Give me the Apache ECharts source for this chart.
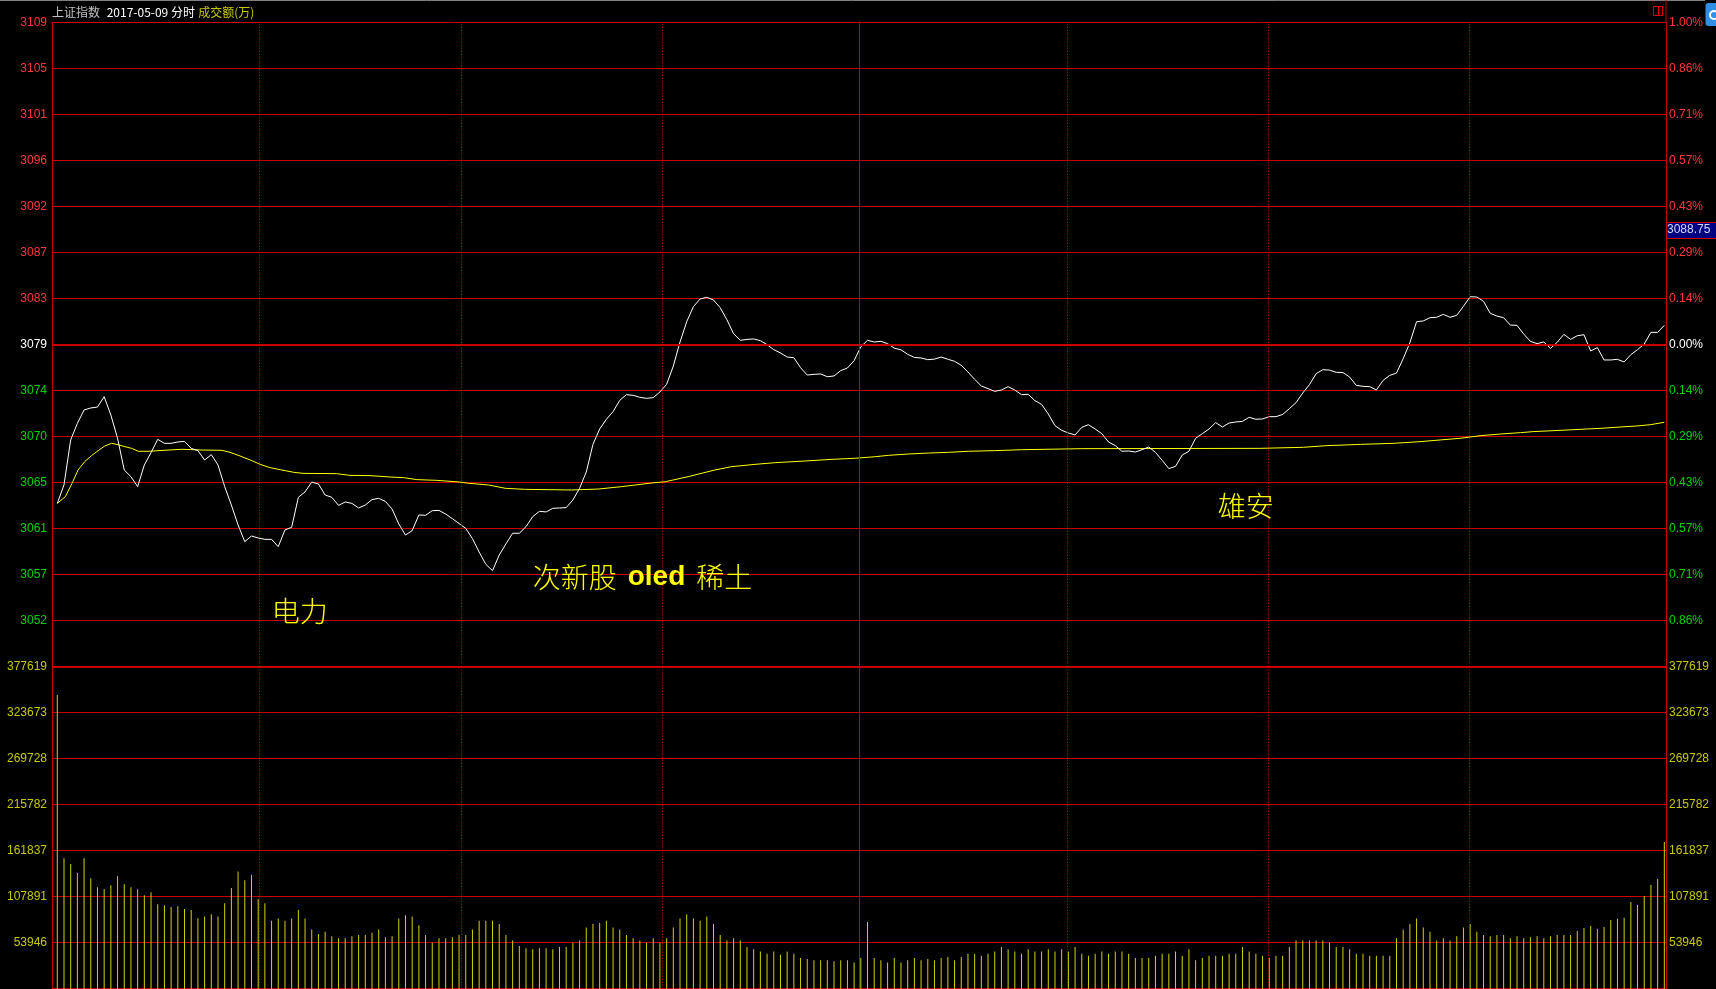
<!DOCTYPE html>
<html><head><meta charset="utf-8">
<script src="https://cdn.jsdelivr.net/npm/echarts@6/dist/echarts.min.js"></script>
<style>html,body{margin:0;padding:0;background:#000;overflow:hidden}#c{width:1716px;height:989px}</style>
</head><body><div id="c"></div>
<script>
// ---------- data ----------
const prevClose = 3078.6;
const priceValues = [
3063.43,3065.19,3069.49,3071.08,3072.36,3072.55,3072.64,3073.63,3071.88,3069.65,
3066.62,3065.98,3065.03,3067.10,3068.28,3069.55,3069.17,3069.17,3069.30,3069.36,
3068.69,3068.47,3067.58,3068.09,3067.10,3065.03,3063.27,3061.36,3059.77,3060.31,
3060.12,3059.99,3059.99,3059.29,3060.89,3061.14,3064.01,3064.52,3065.47,3065.28,
3064.23,3064.01,3063.24,3063.56,3063.43,3062.99,3063.27,3063.79,3063.91,3063.62,
3062.89,3061.46,3060.40,3060.82,3062.32,3062.29,3062.73,3062.76,3062.41,3061.97,
3061.50,3061.04,3060.06,3058.78,3057.60,3057.00,3058.49,3059.55,3060.57,3060.57,
3061.20,3062.16,3062.67,3062.61,3062.96,3062.99,3063.02,3063.75,3064.87,3066.43,
3069.07,3070.54,3071.47,3072.20,3073.28,3073.82,3073.76,3073.57,3073.47,3073.54,
3074.08,3074.81,3076.56,3078.86,3080.80,3082.24,3082.97,3083.13,3082.87,3082.14,
3080.99,3079.65,3079.02,3079.11,3079.15,3078.99,3078.60,3078.13,3077.81,3077.42,
3077.36,3076.40,3075.70,3075.77,3075.80,3075.54,3075.61,3076.12,3076.37,3077.07,
3078.40,3079.02,3078.86,3078.92,3078.70,3078.27,3078.11,3077.68,3077.38,3077.33,
3077.17,3077.22,3077.42,3077.21,3077.01,3076.63,3075.99,3075.29,3074.65,3074.40,
3074.14,3074.27,3074.59,3074.27,3073.82,3073.86,3073.25,3072.90,3071.97,3070.86,
3070.41,3070.16,3069.97,3070.70,3070.95,3070.54,3070.09,3069.30,3068.95,3068.41,
3068.44,3068.34,3068.56,3068.82,3068.31,3067.55,3066.75,3066.97,3068.05,3068.41,
3069.65,3070.09,3070.54,3071.15,3070.73,3071.11,3071.21,3071.27,3071.66,3071.47,
3071.50,3071.72,3071.72,3071.93,3072.48,3073.06,3073.98,3074.78,3075.83,3076.21,
3076.17,3075.96,3075.94,3075.51,3074.71,3074.62,3074.59,3074.27,3075.19,3075.67,
3075.89,3077.26,3078.79,3080.80,3080.87,3081.18,3081.22,3081.50,3081.22,3081.41,
3082.27,3083.19,3083.16,3082.75,3081.60,3081.34,3081.18,3080.48,3080.45,3079.62,
3078.92,3078.70,3078.86,3078.25,3078.83,3079.59,3079.11,3079.46,3079.55,3078.00,
3078.32,3077.14,3077.14,3077.20,3076.95,3077.65,3078.13,3078.67,3079.78,3079.78,
3080.45
];
const avgMinutes = [0,1.2,2.2,3.1,4.1,5.1,6.1,7.1,8.1,9.1,10.1,11.1,12.1,13.8,15.8,18.6,21.6,24.6,25.8,27.3,
28.8,30.3,31.8,33.3,35.3,36.7,41.7,43.7,46.7,49.7,51.7,53.7,56.7,60.1,61.4,64.4,66.9,69.9,76.8,80.8,
84.3,88.8,90.8,94.2,98.2,100.7,104.2,107.2,111.7,115.7,119.1,122.1,124.1,127.1,130.1,133.1,136.1,140.0,144.0,153.0,
179.6,186.1,189.6,194.6,199.5,203.5,206.5,209.5,212.5,215.5,218.5,220.4,223.4,225.4,228.4,230.4,233.4,235.9,237.9,240];
const avgValues = [3063.43,3064.07,3065.34,3066.62,3067.42,3067.99,3068.47,3068.92,3069.17,3069.04,3068.85,3068.69,3068.41,3068.41,3068.50,3068.60,3068.53,3068.50,3068.31,3067.96,
3067.58,3067.16,3066.84,3066.65,3066.40,3066.30,3066.27,3066.11,3066.08,3065.95,3065.89,3065.70,3065.63,3065.47,3065.35,3065.19,3064.87,3064.77,3064.71,3064.80,
3065.03,3065.38,3065.50,3065.98,3066.62,3066.94,3067.16,3067.32,3067.48,3067.64,3067.74,3067.89,3068.02,3068.15,3068.24,3068.31,3068.41,3068.47,3068.56,3068.66,
3068.69,3068.79,3068.95,3069.07,3069.17,3069.33,3069.49,3069.65,3069.90,3070.06,3070.19,3070.29,3070.38,3070.44,3070.54,3070.60,3070.73,3070.83,3070.95,3071.18];
const volumeValues = [
344400,152900,146200,135700,152900,129400,118900,116900,121200,131800,
122400,118900,116500,109500,113000,99000,97800,95800,96600,93500,
92300,82600,84700,87300,84700,100200,118100,137400,127100,133500,
105300,100200,79600,82200,79600,82200,92400,82200,69300,64200,
66800,61600,59100,59100,61600,62900,62900,65500,69300,60300,
61600,82200,86000,84700,74500,62900,53900,59100,59100,60300,
62900,62900,69300,79600,79600,79600,75800,62900,56500,50100,
47500,46200,47500,47500,46200,48800,48800,53900,56500,71900,
75800,77000,79600,71900,69300,62900,59100,56500,53900,59100,
53900,59100,71900,82200,87300,82200,79600,84700,75800,62900,
56500,59100,56500,48800,46200,43700,41100,43700,39800,43700,
41100,36000,34700,33400,33400,33400,32100,33400,33400,30800,
36000,78300,36000,33400,30800,36000,30800,33400,36000,33400,
34700,33400,36000,37200,33400,37200,41100,41100,38500,41100,
43700,48800,46200,43700,41100,46200,43700,43700,46200,43700,
46200,43700,48800,41100,38500,41100,43700,41100,43700,43700,
41100,36000,36000,36000,38500,41100,41100,43700,38500,46200,
33400,36000,38500,38500,38500,41100,41100,48800,43700,41100,
38500,36000,38500,38500,48800,56500,56500,56500,56500,56500,
53900,48800,48800,46200,41100,41100,38500,38500,38500,38500,
59100,69300,75800,82200,71900,66800,56500,59100,56500,61600,
71900,75800,66800,62900,61600,62900,62900,59100,61600,59100,
60300,61600,59100,61600,62900,63000,63000,67700,71200,73500,
70000,72400,80600,82100,83300,101700,98200,108700,121600,128600,
172000
];
const volumeMax = 377619;
const guideMinutes = [30.2, 60.4, 90.4, 150.8, 180.8, 210.8];
const middayMinute = 119.7;
const notes = [
  {text: '电力', minute: 36.2, price: 3053.1},
  {text: '次新股{b|oled}稀土', minute: 87.4, price: 3056.4},
  {text: '雄安', minute: 177.5, price: 3063.1}
];
const headerName = '上证指数', headerDate = '2017-05-09 分时', headerVol = '成交额(万)';
const cursorValue = '3088.75';

// ---------- chart ----------
const RED = '#c40000', DOTRED = '#e00000', GREEN = '#00d400', LRED = '#ff3838', VOLC = '#c8c800';
const pMin = prevClose * 0.99, pMax = prevClose * 1.01, pInt = prevClose * 0.02 / 14;
const colorFor = v => { const n = Number(v); if (Math.abs(n - prevClose) < 0.05) return '#ffffff'; return n > prevClose ? LRED : GREEN; };
const lblFont = {fontFamily: 'Liberation Sans', fontSize: 12};
const xBase = {type: 'value', min: -0.79, max: 240.25, axisLine: {show: false}, axisTick: {show: false}, axisLabel: {show: false}, splitLine: {show: false}};
const vLines = guideMinutes.map(m => ({xAxis: m, lineStyle: {type: [1, 2], color: DOTRED, width: 1}}))
  .concat([{xAxis: middayMinute, lineStyle: {type: 'solid', color: RED, width: 1}}]);
const axisLineStyle = {show: true, onZero: false, lineStyle: {color: RED}};
const hdr = {fontSize: 12, fontFamily: 'Noto Sans CJK SC', fontWeight: 'normal', lineHeight: 14};

const chart = echarts.init(document.getElementById('c'), null, {renderer: 'canvas'});
chart.setOption({
  backgroundColor: '#000',
  animation: false,
  title: {
    left: 52, top: 5, padding: 0,
    text: '{a|' + headerName + '}  {b|' + headerDate + '} {c|' + headerVol + '}',
    textStyle: {fontWeight: 'normal', fontSize: 12, rich: {
      a: Object.assign({color: '#c0c0c0'}, hdr),
      b: Object.assign({color: '#ffffff'}, hdr),
      c: Object.assign({color: VOLC}, hdr)
    }}
  },
  grid: [
    {left: 52, right: 50, top: 22.7, height: 644},
    {left: 52, right: 50, top: 666.7, height: 322}
  ],
  xAxis: [Object.assign({gridIndex: 0}, xBase), Object.assign({gridIndex: 1}, xBase)],
  yAxis: [
    {gridIndex: 0, type: 'value', position: 'left', min: pMin, max: pMax, interval: pInt,
     axisLine: axisLineStyle, axisTick: {show: false},
     splitLine: {show: true, lineStyle: {color: RED, width: 1}},
     axisLabel: Object.assign({margin: 5, showMinLabel: false, formatter: v => Math.round(v).toString(), color: colorFor}, lblFont)},
    {gridIndex: 0, type: 'value', position: 'right', min: pMin, max: pMax, interval: pInt,
     axisLine: axisLineStyle, axisTick: {show: false}, splitLine: {show: false},
     axisLabel: Object.assign({margin: 3, showMinLabel: false, formatter: v => Math.abs((v - prevClose) / prevClose * 100).toFixed(2) + '%', color: colorFor}, lblFont)},
    {gridIndex: 1, type: 'value', position: 'left', min: 0, max: volumeMax, interval: volumeMax / 7,
     axisLine: axisLineStyle, axisTick: {show: false},
     splitLine: {show: true, lineStyle: {color: RED, width: 1}},
     axisLabel: Object.assign({margin: 5, showMinLabel: false, formatter: v => Math.round(v).toString(), color: VOLC}, lblFont)},
    {gridIndex: 1, type: 'value', position: 'right', min: 0, max: volumeMax, interval: volumeMax / 7,
     axisLine: axisLineStyle, axisTick: {show: false}, splitLine: {show: false},
     axisLabel: Object.assign({margin: 3, showMinLabel: false, formatter: v => Math.round(v).toString(), color: VOLC}, lblFont)}
  ],
  series: [
    {name: 'avg', type: 'line', xAxisIndex: 0, yAxisIndex: 0, showSymbol: false, silent: true,
     lineStyle: {color: '#ffff00', width: 1}, data: avgMinutes.map((m, i) => [m, avgValues[i]]), z: 3},
    {name: 'price', type: 'line', xAxisIndex: 0, yAxisIndex: 0, showSymbol: false, silent: true,
     lineStyle: {color: '#ffffff', width: 1}, data: priceValues.map((v, i) => [i, v]), z: 4,
     markLine: {silent: true, symbol: 'none', label: {show: false},
       data: vLines.concat([{yAxis: prevClose, lineStyle: {type: 'solid', color: RED, width: 2}}])},
     markPoint: {silent: true, symbol: 'rect', symbolSize: 1, itemStyle: {color: 'rgba(0,0,0,0)'},
       label: {show: true, position: 'inside', color: '#ffff00', fontSize: 28, fontFamily: 'Noto Sans CJK SC', fontWeight: 300,
         formatter: p => p.name,
         rich: {b: {color: '#ffff00', fontSize: 28, fontWeight: 'bold', fontFamily: 'Liberation Sans', padding: [0, 11]}}},
       data: notes.map(n => ({name: n.text, coord: [n.minute, n.price]}))}
    },
    {name: 'vol', type: 'bar', xAxisIndex: 1, yAxisIndex: 2, barWidth: 1, silent: true,
     itemStyle: {color: '#d2d200'}, data: volumeValues.map((v, i) => [i, v]),
     markLine: {silent: true, symbol: 'none', label: {show: false},
       data: vLines.concat([{yAxis: volumeMax, lineStyle: {type: 'solid', color: RED, width: 2}}])}
    }
  ],
  graphic: [
    {type: 'line', shape: {x1: 0, y1: 0.5, x2: 1705, y2: 0.5}, style: {stroke: '#808080', lineWidth: 1}, silent: true},
    {type: 'line', shape: {x1: 1666, y1: 0, x2: 1666, y2: 23}, style: {stroke: RED, lineWidth: 1}, silent: true},
    {type: 'rect', shape: {x: 1653.5, y: 6.5, width: 9, height: 9}, style: {fill: 'none', stroke: '#e00000', lineWidth: 1}, silent: true},
    {type: 'line', shape: {x1: 1658.5, y1: 6.5, x2: 1658.5, y2: 15.5}, style: {stroke: '#e00000', lineWidth: 1}, silent: true},
    {type: 'rect', shape: {x: 1705.5, y: 3, width: 14, height: 23, r: 3}, style: {fill: '#2f8fe6'}, silent: true},
    {type: 'circle', shape: {cx: 1714, cy: 15, r: 4}, style: {fill: 'none', stroke: '#ffffff', lineWidth: 2}, silent: true},
    {type: 'rect', shape: {x: 1666.5, y: 222.5, width: 50, height: 16}, style: {fill: '#000080', stroke: RED, lineWidth: 1}, silent: true},
    {type: 'text', x: 1667, y: 224, style: {text: cursorValue, fill: '#d8d8ff', font: '12px "Liberation Sans"'}, silent: true}
  ]
});
</script></body></html>
